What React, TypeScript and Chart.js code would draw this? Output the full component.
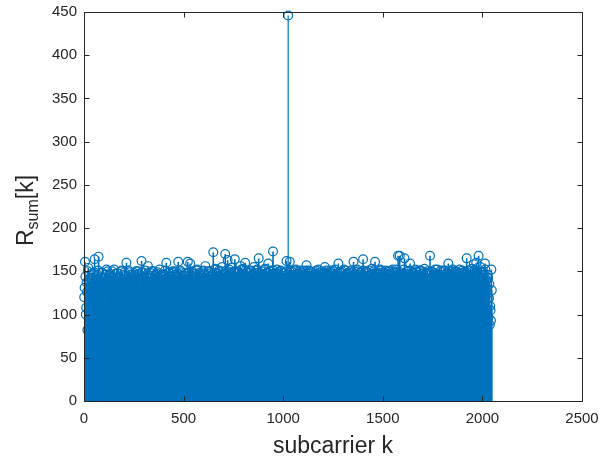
import React, { useEffect, useRef } from "react";
import { Chart, registerables } from "chart.js";

Chart.register(...registerables);

// R_sum[k], subcarriers k = 1, 5, 9, ... (4i + 1)
const R_SUM_A: number[] = [
  120, 161, 100, 137, 82, 154, 117, 131, 142, 109, 126, 148, 135, 164, 128, 140,
  113, 146, 167, 124, 138, 105, 149, 131, 119, 143, 136, 101, 152, 127, 140, 118,
  145, 133, 122, 150, 108, 139, 127, 147, 116, 141, 130, 99, 144, 135, 124, 151,
  112, 137, 146, 128, 119, 160, 134, 142, 106, 149, 125, 138, 131, 117, 145, 139,
  127, 150, 114, 141, 133, 147, 121, 136, 162, 129, 143, 110, 148, 132, 139, 124,
  156, 137, 119, 145, 131, 150, 103, 140, 128, 146, 135, 122, 149, 116, 142, 133,
  125, 144, 138, 111, 147, 130, 141, 160, 134, 121, 148, 137, 126, 143, 115, 150,
  132, 139, 146, 120, 135, 144, 161, 128, 141, 107, 149, 136, 123, 145, 138, 130,
  147, 118, 161, 134, 142, 159, 126, 140, 148, 113, 137, 145, 129, 151, 124, 139,
  135, 146, 120, 142, 131, 149, 138, 117, 156, 141, 128, 145, 133, 150, 122, 140,
  144, 131, 172, 137, 125, 153, 140, 147, 119, 151, 136, 143, 128, 155, 134, 146,
  139, 170, 126, 148, 163, 133, 152, 141, 118, 154, 137, 145, 131, 164, 143, 129,
  150, 138, 144, 122, 156, 135, 147, 130, 153, 141, 160, 127, 149, 136, 145, 124,
  142, 151, 133, 146, 120, 155, 138, 148, 129, 152, 140, 165, 135, 144, 117, 150,
  137, 146, 128, 153, 141, 134, 149, 159, 125, 143, 151, 138, 147, 173, 132, 145,
  140, 128, 152, 136, 147, 121, 144, 150, 133, 141, 126, 148, 137, 145, 162, 131,
  446, 143, 161, 129, 150, 138, 145, 124, 151, 135, 142, 147, 119, 140, 133, 149,
  127, 144, 136, 151, 130, 146, 139, 157, 123, 148, 134, 141, 150, 118, 145, 137,
  142, 131, 149, 125, 146, 138, 152, 133, 140, 120, 147, 136, 143, 129, 155, 139,
  134, 148, 122, 145, 139, 151, 128, 143, 136, 150, 117, 141, 147, 132, 138, 159,
  143, 130, 149, 137, 145, 124, 152, 134, 140, 146, 121, 148, 135, 142, 129, 151,
  138, 145, 161, 131, 147, 126, 143, 150, 136, 141, 119, 149, 133, 146, 164, 128,
  144, 137, 150, 123, 142, 148, 131, 145, 139, 153, 127, 141, 135, 161, 146, 132,
  149, 125, 143, 138, 151, 130, 146, 141, 122, 148, 136, 144, 133, 150, 127, 142,
  137, 147, 129, 152, 140, 134, 145, 121, 149, 138, 168, 143, 168, 131, 146, 139,
  144, 152, 165, 128, 147, 136, 150, 141, 125, 159, 143, 137, 148, 132, 145, 140,
  126, 149, 138, 146, 133, 151, 120, 144, 139, 147, 130, 153, 136, 142, 127, 148,
  141, 135, 168, 129, 150, 137, 145, 123, 148, 140, 134, 152, 128, 146, 138, 143,
  131, 149, 137, 144, 125, 151, 140, 147, 133, 159, 136, 145, 122, 150, 139, 142,
  148, 134, 146, 150, 129, 143, 138, 152, 126, 145, 141, 136, 149, 131, 147, 140,
  165, 137, 151, 128, 146, 142, 135, 153, 139, 158, 144, 130, 160, 147, 136, 168,
  143, 155, 132, 149, 140, 146, 127, 159, 141, 131, 91, 142, 119, 88, 105, 152,
];

// R_sum[k] for the subcarriers in between, k = 3, 7, 11, ... (4i + 3)
const R_SUM_B: number[] = [
  131, 144, 108, 126, 150, 139, 97, 142, 118, 147, 133, 124, 149, 113, 138, 145,
  128, 151, 136, 119, 143, 130, 148, 122, 141, 135, 110, 146, 132, 150, 125, 139,
  147, 121, 138, 144, 129, 152, 115, 140, 134, 148, 126, 143, 137, 119, 150, 131,
  140, 133, 149, 117, 145, 128, 139, 151, 123, 136, 146, 130, 142, 114, 148, 135,
  122, 146, 137, 150, 127, 141, 132, 118, 149, 138, 144, 125, 151, 133, 120, 147,
  136, 129, 143, 148, 112, 139, 150, 134, 124, 145, 131, 147, 119, 140, 152, 127,
  145, 138, 121, 146, 133, 151, 128, 142, 137, 116, 149, 130, 144, 139, 126, 148,
  134, 150, 127, 143, 139, 122, 147, 136, 151, 129, 141, 118, 145, 133, 148, 138,
  123, 141, 149, 132, 146, 137, 115, 150, 128, 143, 135, 147, 120, 152, 139, 131,
  148, 126, 140, 145, 119, 151, 133, 139, 146, 127, 142, 150, 131, 137, 144, 121,
  139, 147, 130, 152, 136, 124, 148, 141, 117, 145, 133, 150, 138, 127, 146, 135,
  143, 120, 151, 137, 145, 131, 140, 149, 126, 147, 135, 122, 150, 141, 132, 148,
  127, 149, 138, 143, 118, 152, 134, 146, 140, 125, 151, 137, 144, 131, 148, 136,
  150, 133, 145, 128, 147, 139, 121, 151, 136, 144, 130, 149, 126, 142, 138, 146,
  135, 143, 152, 124, 140, 148, 131, 137, 150, 119, 146, 134, 142, 151, 127, 144,
  147, 130, 139, 149, 136, 125, 151, 142, 133, 148, 121, 145, 138, 150, 129, 141,
  138, 150, 127, 146, 141, 133, 149, 120, 144, 152, 136, 128, 147, 139, 151, 125,
  146, 132, 148, 137, 123, 150, 140, 145, 129, 151, 135, 143, 117, 149, 138, 144,
  129, 147, 140, 151, 134, 145, 126, 149, 138, 122, 150, 142, 136, 148, 131, 146,
  151, 125, 144, 136, 149, 131, 147, 140, 118, 145, 152, 133, 141, 127, 148, 137,
  136, 148, 132, 150, 124, 143, 139, 151, 130, 147, 135, 120, 149, 142, 137, 145,
  144, 127, 150, 140, 146, 119, 152, 134, 143, 138, 148, 129, 145, 136, 151, 131,
  130, 149, 137, 145, 128, 151, 141, 122, 147, 135, 144, 150, 126, 139, 148, 134,
  147, 138, 124, 152, 142, 133, 149, 137, 145, 121, 151, 140, 131, 146, 138, 150,
  126, 145, 150, 135, 148, 129, 143, 152, 132, 146, 137, 124, 149, 141, 134, 147,
  141, 132, 147, 139, 123, 150, 136, 145, 151, 128, 144, 139, 120, 148, 133, 152,
  150, 137, 129, 146, 141, 135, 151, 127, 143, 149, 134, 140, 147, 122, 150, 138,
  133, 148, 142, 125, 149, 138, 146, 131, 152, 136, 121, 147, 140, 145, 129, 151,
  145, 126, 151, 140, 134, 147, 129, 149, 137, 143, 150, 124, 146, 138, 152, 132,
  137, 150, 131, 146, 142, 121, 148, 139, 145, 133, 151, 127, 143, 149, 135, 146,
  149, 134, 146, 138, 151, 129, 144, 140, 132, 150, 137, 147, 125, 148, 141, 136,
  143, 150, 128, 145, 137, 148, 133, 152, 139, 124, 146, 97, 135, 110, 93, 128,
];

const SUBCARRIERS_A: number[] = R_SUM_A.map((_, i) => 1 + 4 * i);
const SUBCARRIERS_B: number[] = R_SUM_B.map((_, i) => 3 + 4 * i);

const X_TICKS = [0, 500, 1000, 1500, 2000, 2500];
const Y_TICKS = [0, 50, 100, 150, 200, 250, 300, 350, 400, 450];
const X_TITLE = "subcarrier k";
const Y_TITLE_MAIN = "R";
const Y_TITLE_SUB = "sum";
const Y_TITLE_END = "[k]";

const BLUE = "#0072BD";
const INK = "#262626";
const FONT = '"Liberation Sans", Arial, Helvetica, sans-serif';

const framePlugin = {
  id: "matlabFrame",
  afterDatasetsDraw(chart: any) {
    const { ctx, chartArea: a, scales } = chart;
    const xs = scales.x;
    const ys = scales.y;
    const TL = 5;
    ctx.save();
    ctx.strokeStyle = INK;
    ctx.lineWidth = 1;
    ctx.beginPath();
    ctx.rect(a.left + 0.5, a.top + 0.5, a.right - a.left, a.bottom - a.top);
    for (const v of X_TICKS) {
      const px = Math.round(xs.getPixelForValue(v)) + 0.5;
      ctx.moveTo(px, a.bottom + 0.5);
      ctx.lineTo(px, a.bottom + 0.5 - TL);
      ctx.moveTo(px, a.top + 0.5);
      ctx.lineTo(px, a.top + 0.5 + TL);
    }
    for (const v of Y_TICKS) {
      const py = Math.round(ys.getPixelForValue(v)) + 0.5;
      ctx.moveTo(a.left + 0.5, py);
      ctx.lineTo(a.left + 0.5 + TL, py);
      ctx.moveTo(a.right + 0.5, py);
      ctx.lineTo(a.right + 0.5 - TL, py);
    }
    ctx.stroke();

    // x title
    ctx.fillStyle = INK;
    ctx.font = `23px ${FONT}`;
    ctx.textAlign = "center";
    ctx.textBaseline = "alphabetic";
    ctx.fillText(X_TITLE, (a.left + a.right) / 2, a.bottom + 51.5);

    // y title with subscript
    const bigFont = `23px ${FONT}`;
    const subFont = `16px ${FONT}`;
    ctx.font = bigFont;
    const wR = ctx.measureText(Y_TITLE_MAIN).width;
    const wK = ctx.measureText(Y_TITLE_END).width;
    ctx.font = subFont;
    const wS = ctx.measureText(Y_TITLE_SUB).width;
    const total = wR + wS + wK;
    ctx.translate(33, (a.top + a.bottom) / 2 + 4);
    ctx.rotate(-Math.PI / 2);
    ctx.textAlign = "left";
    let cx = -total / 2;
    ctx.font = bigFont;
    ctx.fillText(Y_TITLE_MAIN, cx, 0);
    cx += wR;
    ctx.font = subFont;
    ctx.fillText(Y_TITLE_SUB, cx, 5);
    cx += wS;
    ctx.font = bigFont;
    ctx.fillText(Y_TITLE_END, cx, 0);
    ctx.restore();
  },
};

export default function App() {
  const canvasRef = useRef<HTMLCanvasElement | null>(null);

  useEffect(() => {
    const canvas = canvasRef.current;
    if (!canvas) return;

    const points: { x: number; y: number }[] = [];
    SUBCARRIERS_A.forEach((k, i) => points.push({ x: k, y: R_SUM_A[i] }));
    SUBCARRIERS_B.forEach((k, i) => points.push({ x: k, y: R_SUM_B[i] }));
    points.sort((p, q) => p.x - q.x);

    const stemData: any[] = [];
    points.forEach((p) => {
      stemData.push({ x: p.x, y: 0 });
      stemData.push({ x: p.x, y: p.y });
      stemData.push({ x: p.x, y: null });
    });

    const chart = new Chart(canvas, {
      type: "scatter",
      data: {
        datasets: [
          {
            data: stemData,
            showLine: true,
            spanGaps: false,
            borderColor: BLUE,
            borderWidth: 1.6,
            pointRadius: 0,
            pointHoverRadius: 0,
            segment: {
              borderWidth: (c: any) => (c.p1.parsed.y > 250 ? 1.2 : 1.6),
            },
          } as any,
          {
            data: points,
            showLine: false,
            pointRadius: 4.4,
            pointHoverRadius: 4.4,
            pointBorderWidth: 1.2,
            pointStyle: "circle",
            pointBorderColor: BLUE,
            pointBackgroundColor: "rgba(0,0,0,0)",
            clip: false,
          } as any,
        ],
      },
      options: {
        animation: false,
        responsive: false,
        events: [],
        layout: { padding: { top: 12, right: 29, bottom: 0, left: 0 } },
        plugins: {
          legend: { display: false },
          tooltip: { enabled: false },
        },
        scales: {
          x: {
            type: "linear",
            min: 0,
            max: 2500,
            grid: { display: false, drawTicks: false },
            border: { display: false },
            ticks: {
              padding: 9,
              color: INK,
              font: { family: FONT, size: 15 },
              maxRotation: 0,
              autoSkip: false,
              callback: (v: any) => String(v),
            },
            afterBuildTicks: (s: any) => {
              s.ticks = X_TICKS.map((v) => ({ value: v }));
            },
            afterFit: (s: any) => {
              s.height = 57;
              s.paddingLeft = 0;
              s.paddingRight = 0;
            },
          },
          y: {
            type: "linear",
            min: 0,
            max: 450,
            grid: { display: false, drawTicks: false },
            border: { display: false },
            ticks: {
              padding: 7,
              color: INK,
              font: { family: FONT, size: 15 },
              autoSkip: false,
              callback: (v: any) => String(v),
            },
            afterBuildTicks: (s: any) => {
              s.ticks = Y_TICKS.map((v) => ({ value: v }));
            },
            afterFit: (s: any) => {
              s.width = 84;
              s.paddingTop = 0;
              s.paddingBottom = 0;
            },
          },
        },
      },
      plugins: [framePlugin],
    });

    return () => {
      chart.destroy();
    };
  }, []);

  return (
    <div style={{ position: "fixed", left: 0, top: 0, width: 611, height: 458, background: "#fff" }}>
      <canvas ref={canvasRef} width={611} height={458} style={{ display: "block" }} />
    </div>
  );
}
